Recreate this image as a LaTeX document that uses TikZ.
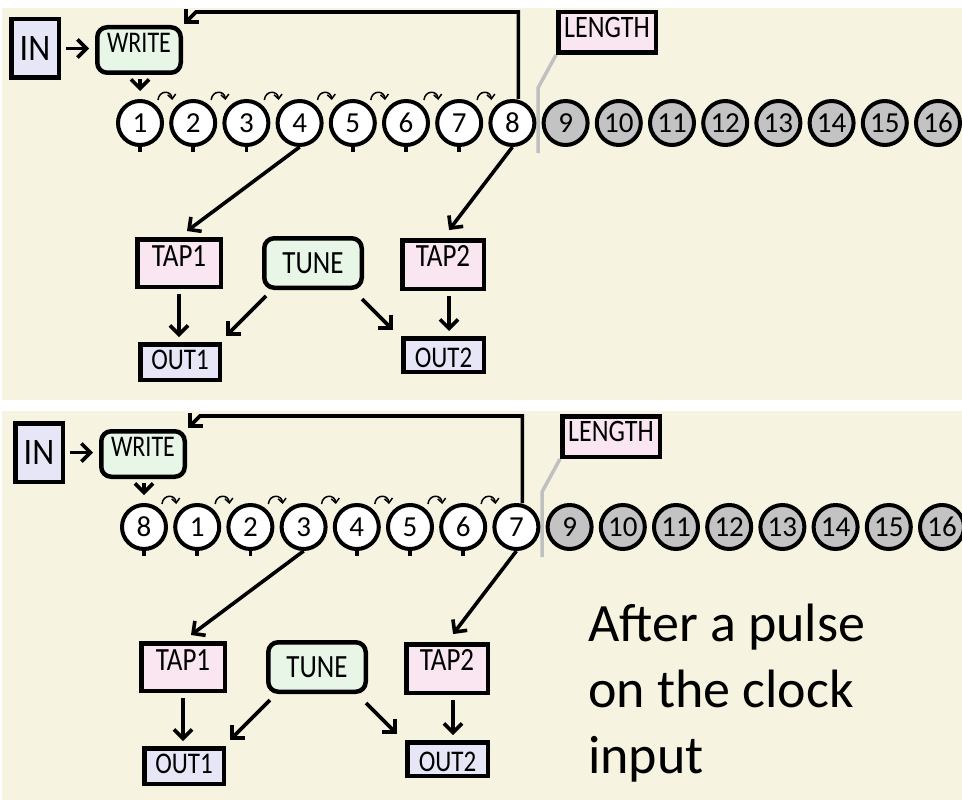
\documentclass[tikz,border=0pt]{standalone}
\usepackage{fontspec}
\setmainfont{Carlito}
\usetikzlibrary{arrows.meta,calc}
\definecolor{bgc}{HTML}{F6F4E1}
\definecolor{lav}{HTML}{E6E6F7}
\definecolor{mint}{HTML}{E7F6E7}
\definecolor{pinkb}{HTML}{F9E6F1}
\definecolor{grayc}{HTML}{C3C3C3}
\definecolor{grayl}{HTML}{C0C0C0}
\newcommand\vs[2][1.2]{\scalebox{1}[#1]{#2}}
\tikzset{
  box/.style={draw, line width=4.5pt, inner sep=0pt, font=\fontsize{27}{27}\selectfont},
  lavbox/.style={box, fill=lav},
  pinkbox/.style={box, fill=pinkb},
  rbox/.style={box, fill=mint, rounded corners=10pt},
  cell/.style={circle, draw, line width=4pt, minimum size=44pt, inner sep=0pt, fill=white, font=\fontsize{29}{29}\selectfont},
  gcell/.style={cell, fill=grayc},
  arr/.style={line width=3.6pt, -{Straight Barb[length=9pt,width=18pt]}},
  tickln/.style={line width=3.5pt},
  hop/.style={line width=1.5pt, -{Straight Barb[length=4.5pt,width=8pt]}},
  glink/.style={draw=grayl, line width=3.5pt},
}
\newcommand\drawpanel[4]{%
\begin{scope}[shift={(#2,#3)}]
  \coordinate (#1g1) at (538,153);
  \coordinate (#1g2) at (538,88);
  \coordinate (#1fb) at (196,12);
  \node[lavbox, minimum width=47.5pt, minimum height=58.5pt, font=\fontsize{34}{34}\selectfont] (#1in) at (35,48.5) {\vs[1.1]{IN}};
  \node[rbox, minimum width=83.5pt, minimum height=45.5pt, font=\fontsize{24}{24}\selectfont, text depth=14pt] (#1write) at (139,50) {\vs[1.25]{WRITE}};
  \node[pinkbox, minimum width=97.5pt, minimum height=40.5pt, font=\fontsize{26}{26}\selectfont, text depth=11pt] (#1len) at (607,32.5) {\vs{LENGTH}};
  \node[pinkbox, minimum width=83.5pt, minimum height=47.5pt, text depth=14pt] (#1tap1) at (179,263) {\vs{TAP1}};
  \node[rbox, minimum width=97.5pt, minimum height=49.5pt] (#1tune) at (313,263) {\vs{TUNE}};
  \node[pinkbox, minimum width=81.5pt, minimum height=48.5pt, text depth=17pt] (#1tap2) at (443,264.5) {\vs{TAP2}};
  \node[lavbox, minimum width=79.5pt, minimum height=35.5pt, text depth=4pt, font=\fontsize{25}{25}\selectfont] (#1out1) at (180,362) {\vs{OUT1}};
  \node[lavbox, minimum width=80.5pt, minimum height=33.5pt, text height=26pt, font=\fontsize{25}{25}\selectfont] (#1out2) at (443.5,355) {\vs{OUT2}};
  \draw[glink] (#1g1) -- (#1g2) -- (#1len.south west);
  \foreach \lab [count=\i] in {#4} {
    \node[cell] (#1c\i) at ({140+(\i-1)*53.2},123) {\lab};
  }
  \foreach \i in {9,...,16} {
    \node[gcell] (#1c\i) at ({140+(\i-1)*53.2},123) {\i};
  }
  \foreach \i in {1,2,3,5,6,7} {
    \draw[tickln] (#1c\i.south) -- ++(0,5);
  }
  \foreach \i [count=\j from 2] in {1,...,7} {
    \draw[hop] ([shift={(1,-6)}]#1c\i.north east) .. controls +(1,-10) and +(-1,-10) .. ([shift={(-4,-6)}]#1c\j.north west);
  }
  \draw[arr, shorten <=5pt, shorten >=6pt] (#1in.east) -- (#1in.east -| #1write.west);
  \draw[arr, shorten <=4pt, shorten >=8pt] (#1c1.north |- #1write.south) -- (#1c1.north);
  \draw[arr, shorten >=2pt] ([xshift=6]#1c8.north) |- (#1fb) -- (#1write.north east);
  \draw[arr, shorten >=10pt] (#1c4.south) -- (#1tap1.north);
  \draw[arr, shorten >=10pt] (#1c8.south) -- (#1tap2.north);
  \draw[arr, shorten <=5pt, shorten >=5pt] (#1tap1.south) -- (#1tap1.south |- #1out1.north);
  \draw[arr, shorten <=5pt, shorten >=5pt] ([xshift=6]#1tap2.south) -- ([xshift=6]#1tap2.south |- #1out2.north);
  \draw[arr] ([shift={(4,6)}]#1tune.south west) -- ([shift={(4,-6)}]#1out1.north east);
  \draw[arr] ([shift={(-2,9)}]#1tune.south east) -- ([shift={(-8,-6)}]#1out2.north west);
\end{scope}}
\begin{document}
\begin{tikzpicture}[x=1pt,y=-1pt]
  \useasboundingbox (0,0) rectangle (962,800);
  \fill[white] (0,0) rectangle (962,800);
  \fill[bgc] (2,8) rectangle (962,400);
  \fill[bgc] (2,411) rectangle (962,800);
  \drawpanel{a}{0}{0}{1,2,3,4,5,6,7,8}
  \drawpanel{b}{4}{404}{8,1,2,3,4,5,6,7}
  \node[anchor=north west, inner sep=0pt, align=left, font=\fontsize{54}{66}\selectfont] (note) at (588,604) {After a pulse\\on the clock\\input};
\end{tikzpicture}
\end{document}
